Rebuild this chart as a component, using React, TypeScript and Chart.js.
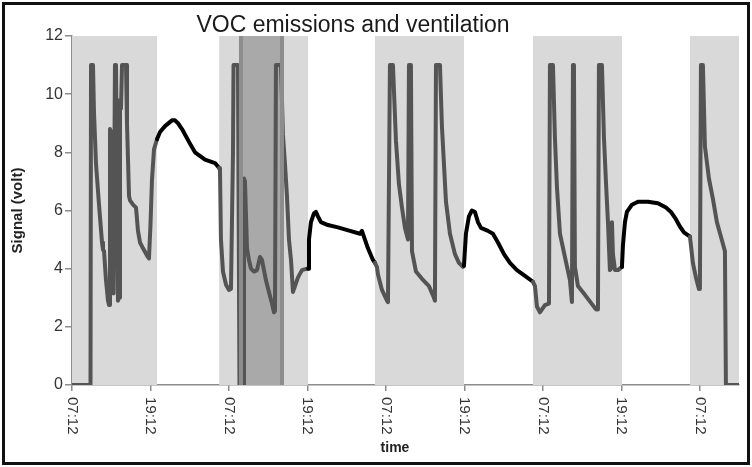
import React, { useEffect, useRef } from "react";
import { Chart, registerables } from "chart.js";

Chart.register(...registerables);

const chartTitle = "VOC emissions and ventilation";
const xAxisTitle = "time";
const yAxisTitle = "Signal (volt)";

// time in hours after the first 07:12 tick
const timeHours = [
  0, 2.83, 2.91, 3.21, 3.36, 3.67, 4.13, 4.59, 4.74, 4.9, 5.2, 5.5, 5.66, 5.81, 5.96, 6.19, 6.35, 6.57, 6.73, 7.03,
  7.19, 7.34, 7.49, 7.65, 8.26, 8.41, 8.72, 8.87, 9.33, 9.79, 10.09, 10.4, 10.86, 11.47, 11.77, 12.0, 12.23, 12.54, 13.0,
  13.46, 14.22, 15.29, 15.75, 16.21, 16.82, 18.04, 18.81, 20.34, 21.87, 22.5,
  22.63, 22.78, 23.09, 23.55, 24.01, 24.31, 24.62, 24.7, 25.38, 25.61, 26.0, 26.15, 26.3, 26.45, 26.76, 27.06, 27.37,
  27.83, 28.29, 28.75, 29.05, 29.66, 30.12, 30.58, 30.89, 31.04, 31.19, 31.65, 31.96, 32.26, 32.57, 32.87, 33.18, 33.49,
  33.79, 34.1, 34.56, 35.17, 35.93, 36.1,
  36.24, 36.54, 37.0, 37.31, 37.61, 38.07, 39.14, 40.67, 42.51, 44.04, 44.34, 44.8, 45.26, 46.02, 46.33,
  46.64, 46.79, 47.4, 48.17, 48.32, 48.62, 49.08, 49.54, 50.0, 50.46, 50.92, 51.38, 51.53, 51.83, 51.99, 52.6, 53.52,
  54.59, 55.35, 55.5, 55.66, 56.27, 56.57, 57.19, 57.8, 58.56, 59.17, 59.79, 59.94,
  60.24, 60.7, 61.16, 61.62, 62.08, 62.54, 63.61, 64.37, 65.14, 66.06, 66.97, 68.04, 69.27, 70.49,
  70.8, 71.1, 71.56, 72.32, 72.94, 73.09, 73.55, 73.85, 74.16, 74.62, 75.38, 76.15, 76.45, 76.61, 76.76, 76.91, 77.37,
  78.44, 80.12, 80.43, 80.58, 81.04, 81.35, 81.65, 81.96, 82.26, 82.42, 82.57, 82.72, 83.03, 83.49, 84.1,
  84.25, 84.56, 84.86, 85.63, 86.54, 88.07, 89.6, 90.83, 91.59, 92.35, 92.96, 93.58, 94.5,
  94.65, 94.95, 95.41, 95.87, 96.02, 96.18, 96.48, 96.79, 97.4, 98.01, 98.62, 99.24, 99.85, 100.0, 102,
];

const signalVolts = [
  0, 0, 11, 11, 9.4, 7.6, 6.2, 4.9, 4.65, 4.6, 3.6, 2.9, 2.75, 8.8, 8.7, 3.2, 3.15, 11, 11, 2.9,
  3.0, 9.8, 9.5, 11, 11, 9.0, 6.5, 6.35, 6.2, 6.1, 5.3, 4.9, 4.7, 4.45, 4.35, 5.5, 7.05, 8.1, 8.45,
  8.7, 8.9, 9.1, 9.1, 9.0, 8.8, 8.3, 8.0, 7.75, 7.63, 7.46,
  7.4, 5.0, 3.9, 3.45, 3.27, 3.3, 8.0, 11, 11, 0, 0, 0, 7.1, 7.0, 4.7, 4.3, 4.0,
  3.9, 3.95, 4.4, 4.3, 3.6, 3.2, 2.8, 2.5, 2.55, 11, 11, 11, 8.6, 7.6, 6.5, 5.0, 4.3,
  3.2, 3.4, 3.7, 3.95, 4.0, 4.0,
  5.0, 5.6, 5.9, 5.95, 5.8, 5.6, 5.5, 5.42, 5.3, 5.2, 5.3, 5.0, 4.7, 4.3, 4.2,
  4.05, 3.8, 3.27, 2.9, 2.85, 11, 11, 8.4, 6.9, 6.1, 5.4, 5.0, 11, 11, 4.6, 3.9, 3.65,
  3.4, 3.0, 2.9, 11, 11, 8.9, 6.3, 5.2, 4.5, 4.2, 4.06, 4.1,
  5.2, 5.8, 6.0, 5.95, 5.6, 5.4, 5.3, 5.2, 4.9, 4.5, 4.2, 3.95, 3.75, 3.55,
  3.4, 2.7, 2.5, 2.75, 2.8, 11, 11, 8.5, 6.8, 5.2, 4.4, 3.6, 2.85, 11, 11, 4.06, 3.4,
  3.1, 2.6, 2.6, 11, 11, 8.5, 7.0, 5.6, 3.95, 4.0, 5.6, 4.5, 3.95, 3.95, 4.06,
  4.8, 5.6, 5.95, 6.2, 6.3, 6.3, 6.25, 6.1, 5.95, 5.7, 5.45, 5.25, 5.1,
  4.8, 4.2, 3.7, 3.3, 3.3, 11, 11, 8.2, 7.1, 6.4, 5.6, 5.1, 4.6, 0, 0,
];

// ventilation (shaded) periods, hours
const ventStart = [0, 22.5, 46.33, 70.49, 94.5];
const ventEnd = [13.0, 36.1, 59.94, 84.1, 102];
// darker period inside the second band, hours
const darkStart = [25.84];
const darkEnd = [32.11];

const xTickValues = [0, 12, 24, 36, 48, 60, 72, 84, 96];
const xTickLabels = ["07:12", "19:12", "07:12", "19:12", "07:12", "19:12", "07:12", "19:12", "07:12"];

const FONT = '"Liberation Sans", Arial, sans-serif';
const BAND = "#d9d9d9";
const DARK_BAND = "#a9a9a9";
const DARK_EDGE = "#8d8d8d";
const GREY_LINE = "#545454";
const BLACK_LINE = "#000000";
const AXIS = "#8c8c8c";

function inVent(h: number) {
  for (let i = 0; i < ventStart.length; i++) {
    if (h >= ventStart[i] && h <= ventEnd[i]) return true;
  }
  return false;
}

const decorPlugin = {
  id: "decor",
  beforeDatasetsDraw(chart: any) {
    const { ctx, chartArea } = chart;
    const x = chart.scales.x;
    ctx.save();
    ctx.fillStyle = BAND;
    for (let i = 0; i < ventStart.length; i++) {
      const a = x.getPixelForValue(ventStart[i]);
      const b = x.getPixelForValue(ventEnd[i]);
      ctx.fillRect(a, chartArea.top, b - a, chartArea.bottom - chartArea.top);
    }
    ctx.fillStyle = DARK_BAND;
    for (let i = 0; i < darkStart.length; i++) {
      const a = x.getPixelForValue(darkStart[i]);
      const b = x.getPixelForValue(darkEnd[i]);
      ctx.fillRect(a, chartArea.top, b - a, chartArea.bottom - chartArea.top);
    }
    ctx.restore();
  },
  afterDatasetsDraw(chart: any) {
    const { ctx, chartArea } = chart;
    const x = chart.scales.x;
    ctx.save();
    ctx.fillStyle = DARK_EDGE;
    for (let i = 0; i < darkStart.length; i++) {
      for (const v of [darkStart[i], darkEnd[i]]) {
        const p = x.getPixelForValue(v);
        ctx.fillRect(p - 2, chartArea.top, 4, chartArea.bottom - chartArea.top);
      }
    }
    ctx.restore();
  },
  afterDraw(chart: any) {
    const { ctx, chartArea } = chart;
    const x = chart.scales.x;
    ctx.save();
    // title
    ctx.fillStyle = "#1a1a1a";
    ctx.font = `23px ${FONT}`;
    ctx.textAlign = "center";
    ctx.textBaseline = "alphabetic";
    ctx.fillText(chartTitle, 348, 27);
    // x axis title
    ctx.fillStyle = "#222222";
    ctx.font = `bold 14px ${FONT}`;
    ctx.textBaseline = "middle";
    ctx.fillText(xAxisTitle, 390, 443);
    // x tick labels rotated clockwise
    ctx.fillStyle = "#333333";
    ctx.font = `15px ${FONT}`;
    ctx.textAlign = "left";
    ctx.textBaseline = "middle";
    for (let i = 0; i < xTickValues.length; i++) {
      const px = x.getPixelForValue(xTickValues[i]);
      ctx.save();
      ctx.translate(px, chartArea.bottom + 12);
      ctx.rotate(Math.PI / 2);
      ctx.fillText(xTickLabels[i], 0, 0);
      ctx.restore();
    }
    ctx.restore();
  },
};

export default function App() {
  const canvasRef = useRef<HTMLCanvasElement | null>(null);

  useEffect(() => {
    const canvas = canvasRef.current;
    if (!canvas) return;
    const points = timeHours.map((t, i) => ({ x: t, y: signalVolts[i] }));
    const chart = new Chart(canvas, {
      type: "line",
      data: {
        datasets: [
          {
            data: points,
            borderColor: GREY_LINE,
            borderWidth: 4,
            pointRadius: 0,
            tension: 0,
            borderJoinStyle: "round",
            borderCapStyle: "round",
            segment: {
              borderColor: (c: any) => {
                const mid = (c.p0.parsed.x + c.p1.parsed.x) / 2;
                return inVent(mid) ? GREY_LINE : BLACK_LINE;
              },
            },
          } as any,
        ],
      },
      options: {
        responsive: false,
        animation: false,
        devicePixelRatio: 1,
        layout: { padding: { left: 0, right: 8, top: 31, bottom: 0 } },
        plugins: {
          legend: { display: false },
          title: { display: false },
          tooltip: { enabled: false },
        },
        scales: {
          x: {
            type: "linear",
            min: 0,
            max: 102,
            afterBuildTicks: (s: any) => {
              s.ticks = xTickValues.map((v) => ({ value: v }));
            },
            afterFit: (s: any) => {
              s.height = 77;
            },
            ticks: {
              display: true,
              autoSkip: false,
              color: "rgba(0,0,0,0)",
              minRotation: 90,
              maxRotation: 90,
              font: { family: FONT, size: 15 },
              callback: (v: any) => xTickLabels[xTickValues.indexOf(Number(v))] ?? "",
            },
            grid: { drawOnChartArea: false, drawTicks: true, tickLength: 6, color: AXIS, lineWidth: 1.5 },
            border: { display: true, color: AXIS, width: 1.5 },
            title: { display: false, text: xAxisTitle },
          },
          y: {
            min: 0,
            max: 12,
            afterFit: (s: any) => {
              s.width = 67;
            },
            ticks: {
              stepSize: 2,
              color: "#333333",
              padding: 2,
              font: { family: FONT, size: 16 },
            },
            grid: { drawOnChartArea: false, drawTicks: true, tickLength: 7, color: AXIS, lineWidth: 1.5 },
            border: { display: true, color: AXIS, width: 1.5 },
            title: {
              display: true,
              text: yAxisTitle,
              color: "#222",
              font: { family: FONT, size: 15, weight: "bold" },
              padding: { top: 4, bottom: 4 },
            },
          },
        },
      } as any,
      plugins: [decorPlugin],
    });
    return () => chart.destroy();
  }, []);

  return (
    <div
      style={{
        position: "absolute",
        left: 2,
        top: 2,
        width: 748,
        height: 463,
        border: "3px solid #111",
        boxSizing: "border-box",
        background: "#fff",
      }}
    >
      <canvas ref={canvasRef} width={742} height={457} style={{ display: "block", width: 742, height: 457 }} />
    </div>
  );
}
